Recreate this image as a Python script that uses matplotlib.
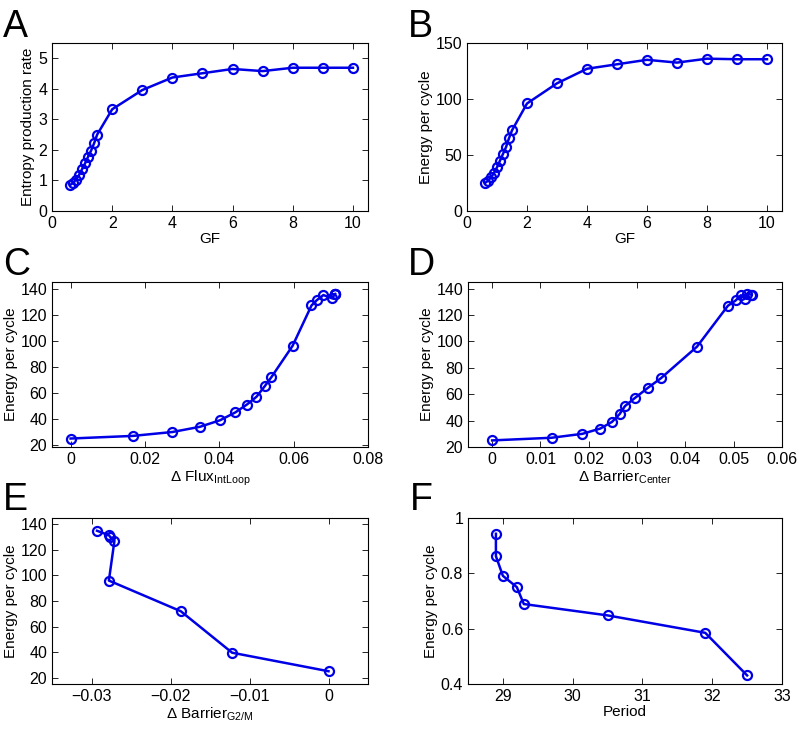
import numpy as np
import matplotlib
matplotlib.use("Agg")
import matplotlib.pyplot as plt

plt.rcParams['font.family'] = ['Liberation Sans', 'DejaVu Sans']
plt.rcParams['mathtext.fontset'] = 'custom'
plt.rcParams['mathtext.rm'] = 'Liberation Sans'
plt.rcParams['mathtext.it'] = 'Liberation Sans:italic'

# --- data ---
gf = [0.6, 0.7, 0.8, 0.9, 1.0, 1.1, 1.2, 1.3, 1.4, 1.5, 2, 3, 4, 5, 6, 7, 8, 9, 10]
entropy_rate = [0.85, 0.92, 1.03, 1.18, 1.37, 1.56, 1.78, 1.98, 2.22, 2.5,
                3.33, 3.96, 4.37, 4.51, 4.65, 4.58, 4.69, 4.69, 4.69]
energy_gf = [25, 27, 30, 34, 39, 45, 51, 57, 65, 72,
             96, 114, 127, 131, 135, 132.5, 136, 135.5, 135.5]

# panels C and D have no point at 114
energy_cd = [25, 27, 30, 34, 39, 45, 51, 57, 65, 72,
             96, 127, 131, 135, 132.5, 136, 135.5, 135.5]
flux_intloop = [0, 0.0167, 0.0274, 0.0348, 0.0402, 0.0443, 0.0474, 0.0500, 0.0522, 0.0540,
                0.0597, 0.0648, 0.0662, 0.0680, 0.0703, 0.0712, 0.0710, 0.0711]
barrier_center = [0, 0.0123, 0.0187, 0.0224, 0.0248, 0.0264, 0.0275, 0.0295, 0.0323, 0.0349,
                  0.0424, 0.0488, 0.0504, 0.0515, 0.0523, 0.0528, 0.0535, 0.0537]

barrier_g2m = [-0.0293, -0.0278, -0.0276, -0.0271, -0.0278, -0.0187, -0.0122, 0.0]
energy_g2m = [135, 131.5, 130, 127, 96, 72, 39.5, 25]

period = [28.9, 28.9, 29.0, 29.2, 29.3, 30.5, 31.9, 32.5]
energy_period = [0.943, 0.862, 0.791, 0.75, 0.689, 0.648, 0.585, 0.431]

W, H = 799, 731
fig = plt.figure(figsize=(W / 100, H / 100), dpi=100)
TICK_FS = 11.5
LABEL_FS = 11


def px_axes(l, t, r, b):
    return fig.add_axes([l / W, 1 - b / H, (r - l) / W, (b - t) / H])


def style(ax):
    ax.tick_params(direction='in', top=True, right=True, labelsize=TICK_FS, length=4, width=0.6)
    for s in ax.spines.values():
        s.set_linewidth(0.8)


def draw(ax, x, y):
    ax.plot(x, y, '-o', color='#0000e6', lw=1.8, ms=6.5, mfc='none', mew=1.6)


# A
ax = px_axes(52, 43, 368, 211)
draw(ax, gf, entropy_rate)
ax.set_xlim(0, 10.5)
ax.set_ylim(0, 5.5)
ax.set_xticks([0, 2, 4, 6, 8, 10])
ax.set_yticks([0, 1, 2, 3, 4, 5])
ax.set_xlabel('GF', fontsize=LABEL_FS, labelpad=1)
ax.set_ylabel('Entropy production rate', fontsize=LABEL_FS, labelpad=2)
style(ax)

# B
ax = px_axes(467, 43, 782, 211)
draw(ax, gf, energy_gf)
ax.set_xlim(0, 10.5)
ax.set_ylim(0, 150)
ax.set_xticks([0, 2, 4, 6, 8, 10])
ax.set_yticks([0, 50, 100, 150])
ax.set_xlabel('GF', fontsize=LABEL_FS, labelpad=1)
ax.set_ylabel('Energy per cycle', fontsize=LABEL_FS, labelpad=2)
style(ax)

# C
ax = px_axes(52, 282, 368, 447)
draw(ax, flux_intloop, energy_cd)
ax.set_xlim(-0.005, 0.08)
ax.set_ylim(18.5, 145)
ax.set_xticks([0, 0.02, 0.04, 0.06, 0.08])
ax.set_xticklabels(['0', '0.02', '0.04', '0.06', '0.08'])
ax.set_yticks([20, 40, 60, 80, 100, 120, 140])
ax.set_xlabel(r'$\Delta$ Flux$_{\mathrm{IntLoop}}$', fontsize=LABEL_FS, labelpad=1)
ax.set_ylabel('Energy per cycle', fontsize=LABEL_FS, labelpad=2)
style(ax)

# D
ax = px_axes(468, 282, 782, 447)
draw(ax, barrier_center, energy_cd)
ax.set_xlim(-0.005, 0.06)
ax.set_ylim(20, 145)
ax.set_xticks([0, 0.01, 0.02, 0.03, 0.04, 0.05, 0.06])
ax.set_xticklabels(['0', '0.01', '0.02', '0.03', '0.04', '0.05', '0.06'])
ax.set_yticks([20, 40, 60, 80, 100, 120, 140])
ax.set_xlabel(r'$\Delta$ Barrier$_{\mathrm{Center}}$', fontsize=LABEL_FS, labelpad=1)
ax.set_ylabel('Energy per cycle', fontsize=LABEL_FS, labelpad=2)
style(ax)

# E
ax = px_axes(52, 518, 368, 684)
draw(ax, barrier_g2m, energy_g2m)
ax.set_xlim(-0.035, 0.005)
ax.set_ylim(15, 145)
ax.set_xticks([-0.03, -0.02, -0.01, 0])
ax.set_xticklabels(['\u22120.03', '\u22120.02', '\u22120.01', '0'])
ax.set_yticks([20, 40, 60, 80, 100, 120, 140])
ax.set_xlabel(r'$\Delta$ Barrier$_{\mathrm{G2/M}}$', fontsize=LABEL_FS, labelpad=1)
ax.set_ylabel('Energy per cycle', fontsize=LABEL_FS, labelpad=2)
style(ax)

# F
ax = px_axes(468, 518, 782, 684)
draw(ax, period, energy_period)
ax.set_xlim(28.5, 33)
ax.set_ylim(0.4, 1.0)
ax.set_xticks([29, 30, 31, 32, 33])
ax.set_yticks([0.4, 0.6, 0.8, 1.0])
ax.set_yticklabels(['0.4', '0.6', '0.8', '1'])
ax.set_xlabel('Period', fontsize=LABEL_FS, labelpad=1)
ax.set_ylabel('Energy per cycle', fontsize=LABEL_FS, labelpad=2)
style(ax)

# panel letters
for letter, x, y in [('A', 3, 37), ('B', 408, 37), ('C', 3, 275),
                     ('D', 408, 275), ('E', 3, 510), ('F', 410, 510)]:
    fig.text(x / W, 1 - y / H, letter, fontsize=27, va='baseline', ha='left')

fig.savefig('out.png', dpi=100)
